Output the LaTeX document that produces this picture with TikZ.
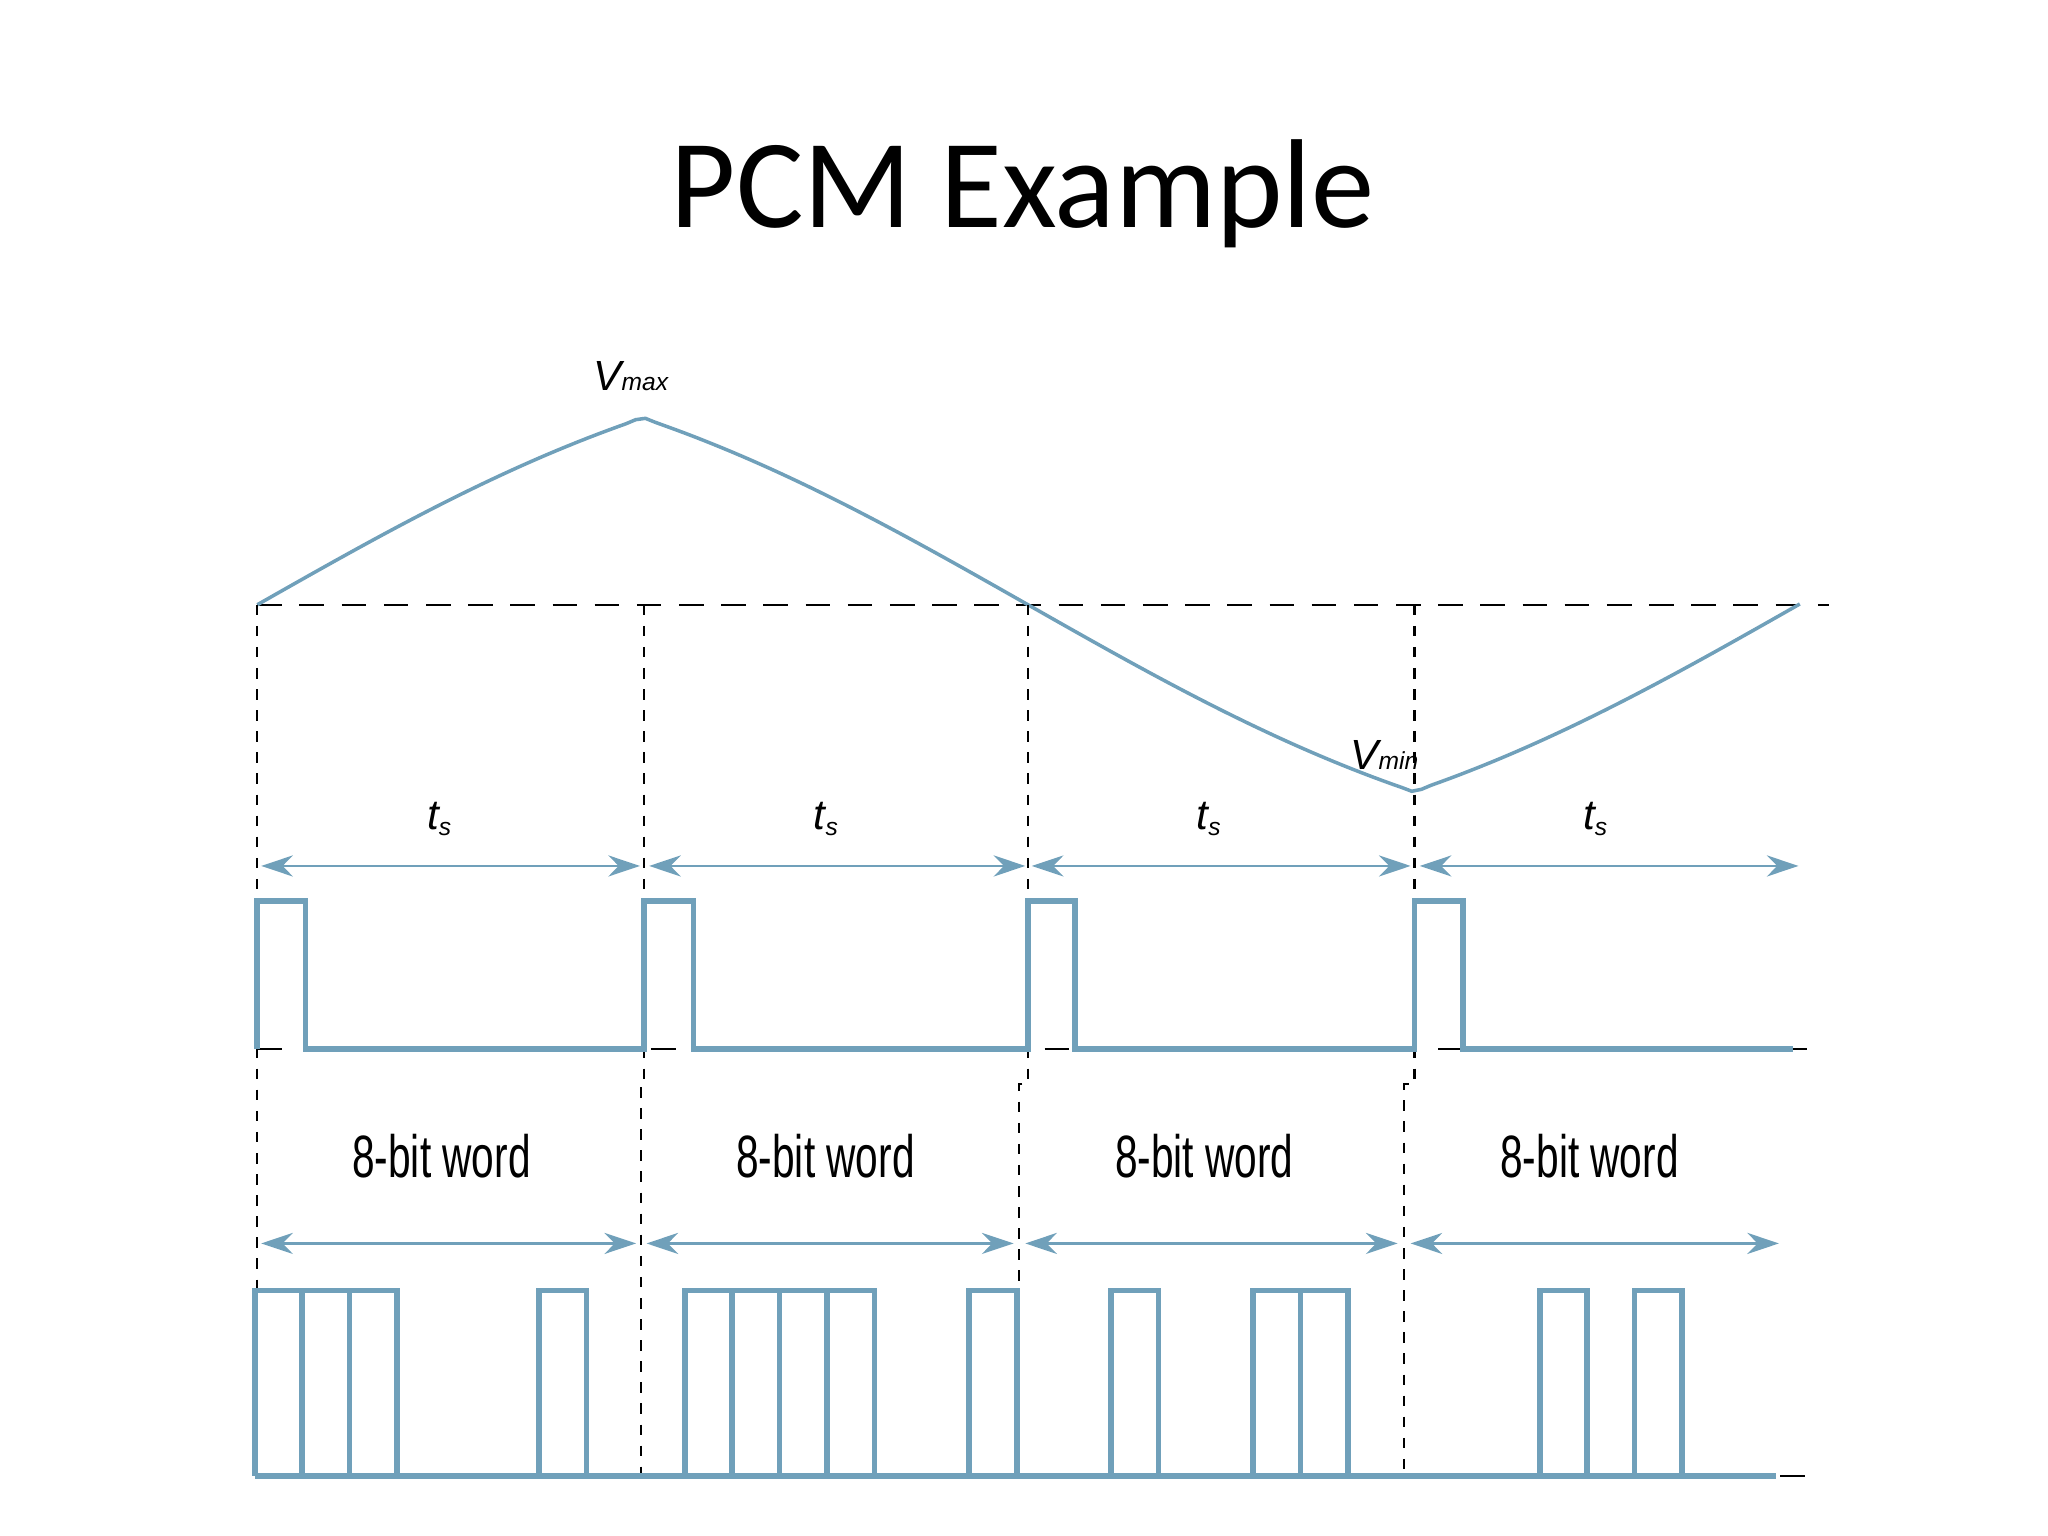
\documentclass[tikz,border=0pt]{standalone}
\usepackage{fontspec}
\setmainfont{Liberation Sans}
\newfontfamily\titlefont{Carlito}
\usetikzlibrary{positioning,arrows.meta,calc}
\definecolor{sig}{RGB}{112,160,186}
\tikzset{
  wave/.style={sig, line width=1pt},
  pulse/.style={sig, line width=1.6pt},
  guide/.style={black, dashed, line width=0.6pt, dash pattern=on 3pt off 3pt},
  base/.style={black, dashed, line width=0.7pt, dash pattern=on 7pt off 7pt},
  span/.style={sig, line width=0.8pt, {Stealth[length=9pt,width=6pt]}-{Stealth[length=9pt,width=6pt]}},
  lbl/.style={font=\fontsize{12}{14}\selectfont\itshape, inner sep=0pt},
  word/.style={font=\fontsize{17}{20}\selectfont, inner sep=0pt}
}
\newcommand{\bitw}{36.3}
\begin{document}
\begin{tikzpicture}[x=0.01306cm, y=-0.01306cm]
\useasboundingbox (0,0) rectangle (1568,1176);
\node[font=\titlefont\fontsize{36}{42}\selectfont] (title) at (783,148) {PCM Example};
% analogue signal
\draw[guide, dash pattern=on 7pt off 5pt] (197,463) -- (1400,463);
\draw[wave] plot[domain=197:1378, samples=160]
  (\x,{463-143*(0.3*sin((\x-197)/1180*360)+0.7*asin(sin((\x-197)/1180*360))/90)});
\node[lbl] (vmax) at (483,288) {V{\scriptsize max}};
\node[lbl] (vmin) at (1060,578) {V{\scriptsize min}};
% sample instants
\foreach \n/\xa/\xb in {1/197/197, 2/493/491, 3/787/780, 4/1083/1075} {
  \coordinate (top\n) at (\xa,463);
  \coordinate (mid\n) at (\xa,830);
  \coordinate (low\n) at (\xb,830);
  \coordinate (end\n) at (\xb,1130);
  \draw[guide] (top\n) -- (mid\n) -- (low\n) -- (end\n);
}
% sampling intervals
\foreach \n/\xa/\xb/\xc in {1/200/490/337, 2/497/785/633, 3/790/1080/926, 4/1087/1377/1222} {
  \coordinate (sa\n) at (\xa,663);
  \coordinate (sb\n) at (\xb,663);
  \draw[span] (sa\n) -- (sb\n);
  \node[lbl] (ts\n) at (\xc,627) {t\textsubscript{\scriptsize s}};
}
% sampling pulses
\draw[base] (197,803) -- (1400,803);
\draw[pulse] (197,803) -- (197,690) -- (234,690) -- (234,803) -- (493,803) -- (493,690) -- (531,690) -- (531,803)
  -- (787,803) -- (787,690) -- (823,690) -- (823,803) -- (1083,803) -- (1083,690) -- (1120,690) -- (1120,803) -- (1373,803);
% word intervals
\foreach \n/\xa/\xb/\xc in {1/200/487/338, 2/495/776/632, 3/785/1070/922, 4/1080/1362/1217} {
  \coordinate (wa\n) at (\xa,952);
  \coordinate (wb\n) at (\xb,952);
  \draw[span] (wa\n) -- (wb\n);
  \node[word] (w\n) at (\xc,885) {\scalebox{0.68}[1]{8-bit word}};
}
% coded bit stream
\draw[base] (195,1130) -- (1392,1130);
\draw[pulse] (195,1130) -- (1360,1130);
\foreach \s/\bits in {195/{0,1,2,6}, 488/{1,2,3,4,7}, 778/{2,5,6}, 1070/{3,5}} {
  \foreach \b in \bits {
    \draw[pulse] ({\s+\b*\bitw},1130) -- ({\s+\b*\bitw},988) -- ({\s+(\b+1)*\bitw},988) -- ({\s+(\b+1)*\bitw},1130);
  }
}
\end{tikzpicture}
\end{document}
